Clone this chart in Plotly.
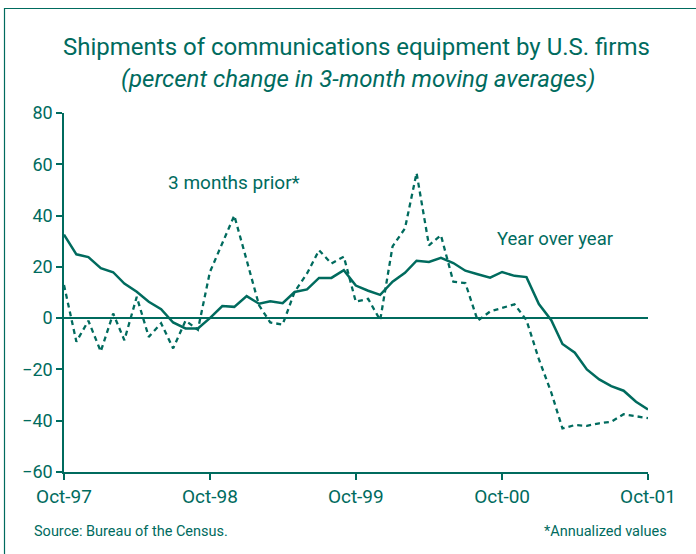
import plotly.graph_objects as go
import pandas as pd

months = pd.date_range("1997-10-01", "2001-10-01", freq="MS")

year_over_year = [32.6, 24.9, 23.8, 19.5, 17.9, 13.5, 10.3, 6.4, 3.5, -1.7, -4.0, -4.0,
                  0.0, 4.7, 4.4, 8.6, 5.6, 6.6, 5.8, 10.2, 11.2, 15.7, 15.7, 18.7,
                  12.7, 10.7, 9.1, 14.2, 17.7, 22.4, 21.9, 23.5, 21.5, 18.5, 17.1, 15.8,
                  18.0, 16.5, 16.0, 5.5, -0.8, -10.1, -13.5, -20.0, -23.9, -26.5, -28.3, -32.6,
                  -35.6]

three_months_prior = [12.9, -9.2, -1.0, -13.0, 1.8, -8.6, 8.3, -7.3, -2.0, -11.8, -1.0, -4.5,
                      18.0, 29.0, 40.0, 22.6, 5.0, -1.7, -2.5, 10.3, 17.4, 26.5, 21.3, 24.0,
                      6.4, 7.5, -0.8, 28.0, 35.0, 56.6, 28.4, 32.3, 14.2, 13.7, -1.0, 2.6,
                      4.1, 5.4, -0.8, -16.0, -29.0, -43.0, -41.7, -42.0, -41.0, -40.4, -37.5, -38.4,
                      -39.0]

tick_dates = ["1997-10-01", "1998-10-01", "1999-10-01", "2000-10-01", "2001-10-01"]
tick_labels = ["Oct-97", "Oct-98", "Oct-99", "Oct-00", "Oct-01"]
y_ticks = [80, 60, 40, 20, 0, -20, -40, -60]

TEAL = "#006b5e"
FONT = "Liberation Sans Narrow, Roboto, Arial Narrow, sans-serif"

W, H = 696, 554
L, R, T, B = 64, 48, 113, 82
pw, ph = W - L - R, H - T - B

def px(x):
    return (x - L) / pw

def py(y):
    return (H - B - y) / ph

fig = go.Figure()
fig.add_trace(go.Scatter(x=months, y=three_months_prior, mode="lines",
                         line=dict(color=TEAL, width=2.3, dash="5px,4px"),
                         name="3 months prior*", showlegend=False))
fig.add_trace(go.Scatter(x=months, y=year_over_year, mode="lines",
                         line=dict(color=TEAL, width=2.5),
                         name="Year over year", showlegend=False))

fig.update_layout(
    width=W, height=H,
    margin=dict(l=L, r=R, t=T, b=B),
    paper_bgcolor="white", plot_bgcolor="white",
    font=dict(family=FONT, color=TEAL, size=16),
    xaxis=dict(range=[months[0], months[-1]], tickvals=tick_dates, ticktext=tick_labels,
               showgrid=False, zeroline=False, showline=True, linecolor=TEAL, linewidth=1.5,
               ticks="outside", ticklen=6, tickcolor=TEAL, tickwidth=1.5,
               tickfont=dict(size=19, color=TEAL, family=FONT)),
    yaxis=dict(range=[-60, 80], tickvals=y_ticks, showgrid=False,
               zeroline=True, zerolinecolor=TEAL, zerolinewidth=1.5,
               showline=True, linecolor=TEAL, linewidth=1.5,
               ticks="outside", ticklen=6, tickcolor=TEAL, tickwidth=1.5,
               tickfont=dict(size=18, color=TEAL, family=FONT)),
)

annotations = [
    dict(text="Shipments of communications equipment by U.S. firms",
         x=px(356), y=py(47), size=24, xanchor="center"),
    dict(text="<i>(percent change in 3-month moving averages)</i>",
         x=px(358), y=py(79), size=24, xanchor="center"),
    dict(text="3 months prior*", x=px(166), y=py(182), size=19, xanchor="left"),
    dict(text="Year over year", x=px(495), y=py(239), size=18.5, xanchor="left"),
    dict(text="Source: Bureau of the Census.", x=px(32), y=py(531), size=14.5, xanchor="left"),
    dict(text="*Annualized values", x=px(669), y=py(531), size=14.5, xanchor="right"),
]
for a in annotations:
    fig.add_annotation(text=a["text"], x=a["x"], y=a["y"], xref="paper", yref="paper",
                       xanchor=a["xanchor"], yanchor="middle", showarrow=False,
                       font=dict(size=a["size"], color=TEAL, family=FONT))

fig.add_shape(type="rect", xref="paper", yref="paper",
              x0=px(4.5), x1=px(720), y0=py(580), y1=py(8.5),
              line=dict(color=TEAL, width=1.2), fillcolor="rgba(0,0,0,0)", layer="below")

fig.write_html("out.html",
               config={"displayModeBar": False},
               post_script="document.body.style.margin='0';document.body.style.padding='0';")
